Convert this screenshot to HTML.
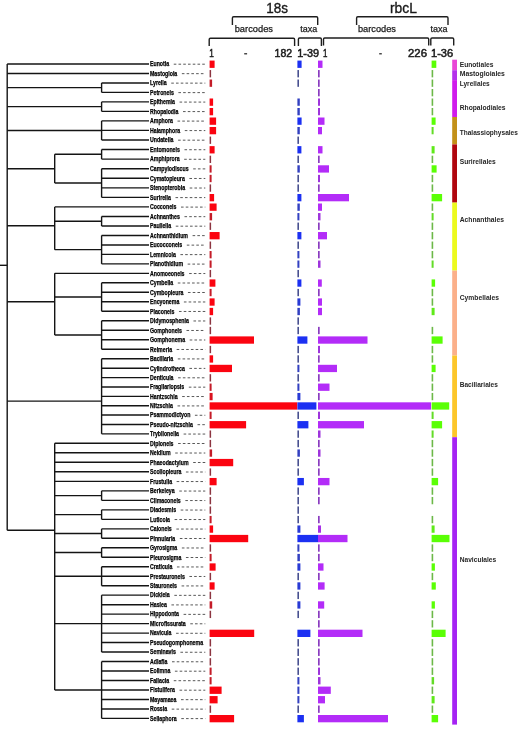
<!DOCTYPE html>
<html><head><meta charset="utf-8"><style>
html,body{margin:0;padding:0;background:#fff;}
svg{display:block;font-family:"Liberation Sans",sans-serif;will-change:transform;}
</style></head><body>
<svg width="520" height="743" viewBox="0 0 520 743">
<rect width="520" height="743" fill="#fff"/>
<line x1="101.60" y1="82.93" x2="101.60" y2="92.41" stroke="#141414" stroke-width="1.4"/>
<line x1="7.20" y1="87.67" x2="101.60" y2="87.67" stroke="#141414" stroke-width="1.4"/>
<line x1="101.60" y1="101.89" x2="101.60" y2="111.38" stroke="#141414" stroke-width="1.4"/>
<line x1="7.20" y1="106.64" x2="101.60" y2="106.64" stroke="#141414" stroke-width="1.4"/>
<line x1="101.60" y1="120.90" x2="101.60" y2="139.98" stroke="#141414" stroke-width="1.4"/>
<line x1="7.20" y1="130.44" x2="101.60" y2="130.44" stroke="#141414" stroke-width="1.4"/>
<line x1="101.60" y1="149.53" x2="101.60" y2="159.09" stroke="#141414" stroke-width="1.4"/>
<line x1="101.60" y1="168.69" x2="101.60" y2="197.40" stroke="#141414" stroke-width="1.4"/>
<line x1="54.70" y1="154.31" x2="101.60" y2="154.31" stroke="#141414" stroke-width="1.4"/>
<line x1="54.70" y1="183.05" x2="101.60" y2="183.05" stroke="#141414" stroke-width="1.4"/>
<line x1="54.70" y1="154.31" x2="54.70" y2="183.05" stroke="#141414" stroke-width="1.4"/>
<line x1="7.20" y1="168.80" x2="54.70" y2="168.80" stroke="#141414" stroke-width="1.4"/>
<line x1="101.60" y1="216.46" x2="101.60" y2="225.98" stroke="#141414" stroke-width="1.4"/>
<line x1="101.60" y1="235.43" x2="101.60" y2="263.90" stroke="#141414" stroke-width="1.4"/>
<line x1="54.70" y1="221.22" x2="101.60" y2="221.22" stroke="#141414" stroke-width="1.4"/>
<line x1="54.70" y1="249.67" x2="101.60" y2="249.67" stroke="#141414" stroke-width="1.4"/>
<line x1="54.70" y1="206.90" x2="54.70" y2="249.67" stroke="#141414" stroke-width="1.4"/>
<line x1="7.20" y1="225.80" x2="54.70" y2="225.80" stroke="#141414" stroke-width="1.4"/>
<line x1="101.60" y1="282.80" x2="101.60" y2="311.26" stroke="#141414" stroke-width="1.4"/>
<line x1="101.60" y1="320.78" x2="101.60" y2="349.27" stroke="#141414" stroke-width="1.4"/>
<line x1="54.70" y1="297.03" x2="101.60" y2="297.03" stroke="#141414" stroke-width="1.4"/>
<line x1="54.70" y1="335.02" x2="101.60" y2="335.02" stroke="#141414" stroke-width="1.4"/>
<line x1="54.70" y1="273.34" x2="54.70" y2="335.02" stroke="#141414" stroke-width="1.4"/>
<line x1="7.20" y1="301.70" x2="54.70" y2="301.70" stroke="#141414" stroke-width="1.4"/>
<line x1="101.60" y1="358.72" x2="101.60" y2="433.85" stroke="#141414" stroke-width="1.4"/>
<line x1="7.20" y1="401.10" x2="101.60" y2="401.10" stroke="#141414" stroke-width="1.4"/>
<line x1="101.60" y1="490.85" x2="101.60" y2="500.36" stroke="#141414" stroke-width="1.4"/>
<line x1="54.70" y1="495.61" x2="101.60" y2="495.61" stroke="#141414" stroke-width="1.4"/>
<line x1="101.60" y1="509.85" x2="101.60" y2="519.34" stroke="#141414" stroke-width="1.4"/>
<line x1="54.70" y1="514.59" x2="101.60" y2="514.59" stroke="#141414" stroke-width="1.4"/>
<line x1="101.60" y1="528.85" x2="101.60" y2="538.29" stroke="#141414" stroke-width="1.4"/>
<line x1="54.70" y1="533.57" x2="101.60" y2="533.57" stroke="#141414" stroke-width="1.4"/>
<line x1="101.60" y1="547.78" x2="101.60" y2="557.30" stroke="#141414" stroke-width="1.4"/>
<line x1="54.70" y1="552.54" x2="101.60" y2="552.54" stroke="#141414" stroke-width="1.4"/>
<line x1="101.60" y1="566.76" x2="101.60" y2="585.73" stroke="#141414" stroke-width="1.4"/>
<line x1="54.70" y1="576.25" x2="101.60" y2="576.25" stroke="#141414" stroke-width="1.4"/>
<line x1="101.60" y1="595.15" x2="101.60" y2="652.05" stroke="#141414" stroke-width="1.4"/>
<line x1="54.70" y1="623.60" x2="101.60" y2="623.60" stroke="#141414" stroke-width="1.4"/>
<line x1="101.60" y1="661.57" x2="101.60" y2="718.40" stroke="#141414" stroke-width="1.4"/>
<line x1="54.70" y1="689.99" x2="101.60" y2="689.99" stroke="#141414" stroke-width="1.4"/>
<line x1="54.70" y1="443.31" x2="54.70" y2="689.99" stroke="#141414" stroke-width="1.4"/>
<line x1="7.20" y1="530.30" x2="54.70" y2="530.30" stroke="#141414" stroke-width="1.4"/>
<line x1="7.20" y1="63.99" x2="7.20" y2="530.30" stroke="#141414" stroke-width="1.4"/>
<line x1="0.00" y1="265.30" x2="7.20" y2="265.30" stroke="#141414" stroke-width="1.4"/>
<line x1="7.20" y1="63.99" x2="149.00" y2="63.99" stroke="#141414" stroke-width="1.4"/>
<line x1="7.20" y1="73.45" x2="149.00" y2="73.45" stroke="#141414" stroke-width="1.4"/>
<line x1="101.60" y1="82.93" x2="149.00" y2="82.93" stroke="#141414" stroke-width="1.4"/>
<line x1="101.60" y1="92.41" x2="149.00" y2="92.41" stroke="#141414" stroke-width="1.4"/>
<line x1="101.60" y1="101.89" x2="149.00" y2="101.89" stroke="#141414" stroke-width="1.4"/>
<line x1="101.60" y1="111.38" x2="149.00" y2="111.38" stroke="#141414" stroke-width="1.4"/>
<line x1="101.60" y1="120.90" x2="149.00" y2="120.90" stroke="#141414" stroke-width="1.4"/>
<line x1="101.60" y1="130.38" x2="149.00" y2="130.38" stroke="#141414" stroke-width="1.4"/>
<line x1="101.60" y1="139.98" x2="149.00" y2="139.98" stroke="#141414" stroke-width="1.4"/>
<line x1="101.60" y1="149.53" x2="149.00" y2="149.53" stroke="#141414" stroke-width="1.4"/>
<line x1="101.60" y1="159.09" x2="149.00" y2="159.09" stroke="#141414" stroke-width="1.4"/>
<line x1="101.60" y1="168.69" x2="149.00" y2="168.69" stroke="#141414" stroke-width="1.4"/>
<line x1="101.60" y1="178.27" x2="149.00" y2="178.27" stroke="#141414" stroke-width="1.4"/>
<line x1="101.60" y1="187.83" x2="149.00" y2="187.83" stroke="#141414" stroke-width="1.4"/>
<line x1="101.60" y1="197.40" x2="149.00" y2="197.40" stroke="#141414" stroke-width="1.4"/>
<line x1="54.70" y1="206.90" x2="149.00" y2="206.90" stroke="#141414" stroke-width="1.4"/>
<line x1="101.60" y1="216.46" x2="149.00" y2="216.46" stroke="#141414" stroke-width="1.4"/>
<line x1="101.60" y1="225.98" x2="149.00" y2="225.98" stroke="#141414" stroke-width="1.4"/>
<line x1="101.60" y1="235.43" x2="149.00" y2="235.43" stroke="#141414" stroke-width="1.4"/>
<line x1="101.60" y1="244.93" x2="149.00" y2="244.93" stroke="#141414" stroke-width="1.4"/>
<line x1="101.60" y1="254.42" x2="149.00" y2="254.42" stroke="#141414" stroke-width="1.4"/>
<line x1="101.60" y1="263.90" x2="149.00" y2="263.90" stroke="#141414" stroke-width="1.4"/>
<line x1="54.70" y1="273.34" x2="149.00" y2="273.34" stroke="#141414" stroke-width="1.4"/>
<line x1="101.60" y1="282.80" x2="149.00" y2="282.80" stroke="#141414" stroke-width="1.4"/>
<line x1="101.60" y1="292.29" x2="149.00" y2="292.29" stroke="#141414" stroke-width="1.4"/>
<line x1="101.60" y1="301.77" x2="149.00" y2="301.77" stroke="#141414" stroke-width="1.4"/>
<line x1="101.60" y1="311.26" x2="149.00" y2="311.26" stroke="#141414" stroke-width="1.4"/>
<line x1="101.60" y1="320.78" x2="149.00" y2="320.78" stroke="#141414" stroke-width="1.4"/>
<line x1="101.60" y1="330.27" x2="149.00" y2="330.27" stroke="#141414" stroke-width="1.4"/>
<line x1="101.60" y1="339.79" x2="149.00" y2="339.79" stroke="#141414" stroke-width="1.4"/>
<line x1="101.60" y1="349.27" x2="149.00" y2="349.27" stroke="#141414" stroke-width="1.4"/>
<line x1="101.60" y1="358.72" x2="149.00" y2="358.72" stroke="#141414" stroke-width="1.4"/>
<line x1="101.60" y1="368.20" x2="149.00" y2="368.20" stroke="#141414" stroke-width="1.4"/>
<line x1="101.60" y1="377.60" x2="149.00" y2="377.60" stroke="#141414" stroke-width="1.4"/>
<line x1="101.60" y1="386.96" x2="149.00" y2="386.96" stroke="#141414" stroke-width="1.4"/>
<line x1="101.60" y1="396.34" x2="149.00" y2="396.34" stroke="#141414" stroke-width="1.4"/>
<line x1="101.60" y1="405.72" x2="149.00" y2="405.72" stroke="#141414" stroke-width="1.4"/>
<line x1="101.60" y1="415.07" x2="149.00" y2="415.07" stroke="#141414" stroke-width="1.4"/>
<line x1="101.60" y1="424.48" x2="149.00" y2="424.48" stroke="#141414" stroke-width="1.4"/>
<line x1="101.60" y1="433.85" x2="149.00" y2="433.85" stroke="#141414" stroke-width="1.4"/>
<line x1="54.70" y1="443.31" x2="149.00" y2="443.31" stroke="#141414" stroke-width="1.4"/>
<line x1="54.70" y1="452.82" x2="149.00" y2="452.82" stroke="#141414" stroke-width="1.4"/>
<line x1="54.70" y1="462.31" x2="149.00" y2="462.31" stroke="#141414" stroke-width="1.4"/>
<line x1="54.70" y1="471.81" x2="149.00" y2="471.81" stroke="#141414" stroke-width="1.4"/>
<line x1="54.70" y1="481.36" x2="149.00" y2="481.36" stroke="#141414" stroke-width="1.4"/>
<line x1="101.60" y1="490.85" x2="149.00" y2="490.85" stroke="#141414" stroke-width="1.4"/>
<line x1="101.60" y1="500.36" x2="149.00" y2="500.36" stroke="#141414" stroke-width="1.4"/>
<line x1="101.60" y1="509.85" x2="149.00" y2="509.85" stroke="#141414" stroke-width="1.4"/>
<line x1="101.60" y1="519.34" x2="149.00" y2="519.34" stroke="#141414" stroke-width="1.4"/>
<line x1="101.60" y1="528.85" x2="149.00" y2="528.85" stroke="#141414" stroke-width="1.4"/>
<line x1="101.60" y1="538.29" x2="149.00" y2="538.29" stroke="#141414" stroke-width="1.4"/>
<line x1="101.60" y1="547.78" x2="149.00" y2="547.78" stroke="#141414" stroke-width="1.4"/>
<line x1="101.60" y1="557.30" x2="149.00" y2="557.30" stroke="#141414" stroke-width="1.4"/>
<line x1="101.60" y1="566.76" x2="149.00" y2="566.76" stroke="#141414" stroke-width="1.4"/>
<line x1="101.60" y1="576.28" x2="149.00" y2="576.28" stroke="#141414" stroke-width="1.4"/>
<line x1="101.60" y1="585.73" x2="149.00" y2="585.73" stroke="#141414" stroke-width="1.4"/>
<line x1="101.60" y1="595.15" x2="149.00" y2="595.15" stroke="#141414" stroke-width="1.4"/>
<line x1="101.60" y1="604.71" x2="149.00" y2="604.71" stroke="#141414" stroke-width="1.4"/>
<line x1="101.60" y1="614.16" x2="149.00" y2="614.16" stroke="#141414" stroke-width="1.4"/>
<line x1="101.60" y1="623.59" x2="149.00" y2="623.59" stroke="#141414" stroke-width="1.4"/>
<line x1="101.60" y1="633.09" x2="149.00" y2="633.09" stroke="#141414" stroke-width="1.4"/>
<line x1="101.60" y1="642.55" x2="149.00" y2="642.55" stroke="#141414" stroke-width="1.4"/>
<line x1="101.60" y1="652.05" x2="149.00" y2="652.05" stroke="#141414" stroke-width="1.4"/>
<line x1="101.60" y1="661.57" x2="149.00" y2="661.57" stroke="#141414" stroke-width="1.4"/>
<line x1="101.60" y1="671.00" x2="149.00" y2="671.00" stroke="#141414" stroke-width="1.4"/>
<line x1="101.60" y1="680.49" x2="149.00" y2="680.49" stroke="#141414" stroke-width="1.4"/>
<line x1="101.60" y1="689.99" x2="149.00" y2="689.99" stroke="#141414" stroke-width="1.4"/>
<line x1="101.60" y1="699.47" x2="149.00" y2="699.47" stroke="#141414" stroke-width="1.4"/>
<line x1="101.60" y1="708.93" x2="149.00" y2="708.93" stroke="#141414" stroke-width="1.4"/>
<line x1="101.60" y1="718.40" x2="149.00" y2="718.40" stroke="#141414" stroke-width="1.4"/>
<text x="150.0" y="66.29" font-size="6.8" font-weight="bold" fill="#000" stroke="#000" stroke-width="0.25" textLength="19.14" lengthAdjust="spacingAndGlyphs">Eunotia</text>
<line x1="173.74" y1="64.19" x2="205.30" y2="64.19" stroke="#585858" stroke-width="1.0" stroke-dasharray="2.6 2.15"/>
<text x="150.0" y="75.75" font-size="6.8" font-weight="bold" fill="#000" stroke="#000" stroke-width="0.25" textLength="27.26" lengthAdjust="spacingAndGlyphs">Mastogloia</text>
<line x1="181.86" y1="73.66" x2="205.30" y2="73.66" stroke="#585858" stroke-width="1.0" stroke-dasharray="2.6 2.15"/>
<text x="150.0" y="85.23" font-size="6.8" font-weight="bold" fill="#000" stroke="#000" stroke-width="0.25" textLength="16.64" lengthAdjust="spacingAndGlyphs">Lyrella</text>
<line x1="171.24" y1="83.13" x2="205.30" y2="83.13" stroke="#585858" stroke-width="1.0" stroke-dasharray="2.6 2.15"/>
<text x="150.0" y="94.71" font-size="6.8" font-weight="bold" fill="#000" stroke="#000" stroke-width="0.25" textLength="23.79" lengthAdjust="spacingAndGlyphs">Petroneis</text>
<line x1="178.39" y1="92.61" x2="205.30" y2="92.61" stroke="#585858" stroke-width="1.0" stroke-dasharray="2.6 2.15"/>
<text x="150.0" y="104.19" font-size="6.8" font-weight="bold" fill="#000" stroke="#000" stroke-width="0.25" textLength="24.94" lengthAdjust="spacingAndGlyphs">Epithemia</text>
<line x1="179.54" y1="102.09" x2="205.30" y2="102.09" stroke="#585858" stroke-width="1.0" stroke-dasharray="2.6 2.15"/>
<text x="150.0" y="113.68" font-size="6.8" font-weight="bold" fill="#000" stroke="#000" stroke-width="0.25" textLength="28.42" lengthAdjust="spacingAndGlyphs">Rhopalodia</text>
<line x1="183.02" y1="111.58" x2="205.30" y2="111.58" stroke="#585858" stroke-width="1.0" stroke-dasharray="2.6 2.15"/>
<text x="150.0" y="123.20" font-size="6.8" font-weight="bold" fill="#000" stroke="#000" stroke-width="0.25" textLength="22.91" lengthAdjust="spacingAndGlyphs">Amphora</text>
<line x1="177.51" y1="121.10" x2="205.30" y2="121.10" stroke="#585858" stroke-width="1.0" stroke-dasharray="2.6 2.15"/>
<text x="150.0" y="132.68" font-size="6.8" font-weight="bold" fill="#000" stroke="#000" stroke-width="0.25" textLength="30.17" lengthAdjust="spacingAndGlyphs">Halamphora</text>
<line x1="184.77" y1="130.58" x2="205.30" y2="130.58" stroke="#585858" stroke-width="1.0" stroke-dasharray="2.6 2.15"/>
<text x="150.0" y="142.28" font-size="6.8" font-weight="bold" fill="#000" stroke="#000" stroke-width="0.25" textLength="23.49" lengthAdjust="spacingAndGlyphs">Undatella</text>
<line x1="178.09" y1="140.18" x2="205.30" y2="140.18" stroke="#585858" stroke-width="1.0" stroke-dasharray="2.6 2.15"/>
<text x="150.0" y="151.83" font-size="6.8" font-weight="bold" fill="#000" stroke="#000" stroke-width="0.25" textLength="29.87" lengthAdjust="spacingAndGlyphs">Entomoneis</text>
<line x1="184.47" y1="149.73" x2="205.30" y2="149.73" stroke="#585858" stroke-width="1.0" stroke-dasharray="2.6 2.15"/>
<text x="150.0" y="161.39" font-size="6.8" font-weight="bold" fill="#000" stroke="#000" stroke-width="0.25" textLength="29.58" lengthAdjust="spacingAndGlyphs">Amphiprora</text>
<line x1="184.18" y1="159.29" x2="205.30" y2="159.29" stroke="#585858" stroke-width="1.0" stroke-dasharray="2.6 2.15"/>
<text x="150.0" y="170.99" font-size="6.8" font-weight="bold" fill="#000" stroke="#000" stroke-width="0.25" textLength="38.58" lengthAdjust="spacingAndGlyphs">Campylodiscus</text>
<line x1="193.18" y1="168.89" x2="205.30" y2="168.89" stroke="#585858" stroke-width="1.0" stroke-dasharray="2.6 2.15"/>
<text x="150.0" y="180.57" font-size="6.8" font-weight="bold" fill="#000" stroke="#000" stroke-width="0.25" textLength="34.81" lengthAdjust="spacingAndGlyphs">Cymatopleura</text>
<line x1="189.41" y1="178.47" x2="205.30" y2="178.47" stroke="#585858" stroke-width="1.0" stroke-dasharray="2.6 2.15"/>
<text x="150.0" y="190.13" font-size="6.8" font-weight="bold" fill="#000" stroke="#000" stroke-width="0.25" textLength="35.09" lengthAdjust="spacingAndGlyphs">Stenopterobia</text>
<line x1="189.69" y1="188.03" x2="205.30" y2="188.03" stroke="#585858" stroke-width="1.0" stroke-dasharray="2.6 2.15"/>
<text x="150.0" y="199.70" font-size="6.8" font-weight="bold" fill="#000" stroke="#000" stroke-width="0.25" textLength="20.89" lengthAdjust="spacingAndGlyphs">Surirella</text>
<line x1="175.49" y1="197.60" x2="205.30" y2="197.60" stroke="#585858" stroke-width="1.0" stroke-dasharray="2.6 2.15"/>
<text x="150.0" y="209.20" font-size="6.8" font-weight="bold" fill="#000" stroke="#000" stroke-width="0.25" textLength="26.40" lengthAdjust="spacingAndGlyphs">Cocconeis</text>
<line x1="181.00" y1="207.10" x2="205.30" y2="207.10" stroke="#585858" stroke-width="1.0" stroke-dasharray="2.6 2.15"/>
<text x="150.0" y="218.76" font-size="6.8" font-weight="bold" fill="#000" stroke="#000" stroke-width="0.25" textLength="29.87" lengthAdjust="spacingAndGlyphs">Achnanthes</text>
<line x1="184.47" y1="216.66" x2="205.30" y2="216.66" stroke="#585858" stroke-width="1.0" stroke-dasharray="2.6 2.15"/>
<text x="150.0" y="228.28" font-size="6.8" font-weight="bold" fill="#000" stroke="#000" stroke-width="0.25" textLength="21.18" lengthAdjust="spacingAndGlyphs">Pauliella</text>
<line x1="175.78" y1="226.18" x2="205.30" y2="226.18" stroke="#585858" stroke-width="1.0" stroke-dasharray="2.6 2.15"/>
<text x="150.0" y="237.73" font-size="6.8" font-weight="bold" fill="#000" stroke="#000" stroke-width="0.25" textLength="37.99" lengthAdjust="spacingAndGlyphs">Achnanthidium</text>
<line x1="192.59" y1="235.63" x2="205.30" y2="235.63" stroke="#585858" stroke-width="1.0" stroke-dasharray="2.6 2.15"/>
<text x="150.0" y="247.23" font-size="6.8" font-weight="bold" fill="#000" stroke="#000" stroke-width="0.25" textLength="32.20" lengthAdjust="spacingAndGlyphs">Eucocconeis</text>
<line x1="186.80" y1="245.13" x2="205.30" y2="245.13" stroke="#585858" stroke-width="1.0" stroke-dasharray="2.6 2.15"/>
<text x="150.0" y="256.72" font-size="6.8" font-weight="bold" fill="#000" stroke="#000" stroke-width="0.25" textLength="25.82" lengthAdjust="spacingAndGlyphs">Lemnicola</text>
<line x1="180.42" y1="254.62" x2="205.30" y2="254.62" stroke="#585858" stroke-width="1.0" stroke-dasharray="2.6 2.15"/>
<text x="150.0" y="266.20" font-size="6.8" font-weight="bold" fill="#000" stroke="#000" stroke-width="0.25" textLength="33.06" lengthAdjust="spacingAndGlyphs">Planothidium</text>
<line x1="187.66" y1="264.10" x2="205.30" y2="264.10" stroke="#585858" stroke-width="1.0" stroke-dasharray="2.6 2.15"/>
<text x="150.0" y="275.64" font-size="6.8" font-weight="bold" fill="#000" stroke="#000" stroke-width="0.25" textLength="34.51" lengthAdjust="spacingAndGlyphs">Anomoeoneis</text>
<line x1="189.11" y1="273.54" x2="205.30" y2="273.54" stroke="#585858" stroke-width="1.0" stroke-dasharray="2.6 2.15"/>
<text x="150.0" y="285.10" font-size="6.8" font-weight="bold" fill="#000" stroke="#000" stroke-width="0.25" textLength="23.21" lengthAdjust="spacingAndGlyphs">Cymbella</text>
<line x1="177.81" y1="283.00" x2="205.30" y2="283.00" stroke="#585858" stroke-width="1.0" stroke-dasharray="2.6 2.15"/>
<text x="150.0" y="294.59" font-size="6.8" font-weight="bold" fill="#000" stroke="#000" stroke-width="0.25" textLength="33.35" lengthAdjust="spacingAndGlyphs">Cymbopleura</text>
<line x1="187.95" y1="292.49" x2="205.30" y2="292.49" stroke="#585858" stroke-width="1.0" stroke-dasharray="2.6 2.15"/>
<text x="150.0" y="304.07" font-size="6.8" font-weight="bold" fill="#000" stroke="#000" stroke-width="0.25" textLength="29.30" lengthAdjust="spacingAndGlyphs">Encyonema</text>
<line x1="183.90" y1="301.97" x2="205.30" y2="301.97" stroke="#585858" stroke-width="1.0" stroke-dasharray="2.6 2.15"/>
<text x="150.0" y="313.56" font-size="6.8" font-weight="bold" fill="#000" stroke="#000" stroke-width="0.25" textLength="24.37" lengthAdjust="spacingAndGlyphs">Placoneis</text>
<line x1="178.97" y1="311.46" x2="205.30" y2="311.46" stroke="#585858" stroke-width="1.0" stroke-dasharray="2.6 2.15"/>
<text x="150.0" y="323.08" font-size="6.8" font-weight="bold" fill="#000" stroke="#000" stroke-width="0.25" textLength="38.86" lengthAdjust="spacingAndGlyphs">Didymosphenia</text>
<line x1="193.46" y1="320.98" x2="205.30" y2="320.98" stroke="#585858" stroke-width="1.0" stroke-dasharray="2.6 2.15"/>
<text x="150.0" y="332.57" font-size="6.8" font-weight="bold" fill="#000" stroke="#000" stroke-width="0.25" textLength="31.90" lengthAdjust="spacingAndGlyphs">Gomphoneis</text>
<line x1="186.50" y1="330.47" x2="205.30" y2="330.47" stroke="#585858" stroke-width="1.0" stroke-dasharray="2.6 2.15"/>
<text x="150.0" y="342.09" font-size="6.8" font-weight="bold" fill="#000" stroke="#000" stroke-width="0.25" textLength="35.09" lengthAdjust="spacingAndGlyphs">Gomphonema</text>
<line x1="189.69" y1="339.99" x2="205.30" y2="339.99" stroke="#585858" stroke-width="1.0" stroke-dasharray="2.6 2.15"/>
<text x="150.0" y="351.57" font-size="6.8" font-weight="bold" fill="#000" stroke="#000" stroke-width="0.25" textLength="22.05" lengthAdjust="spacingAndGlyphs">Reimeria</text>
<line x1="176.65" y1="349.47" x2="205.30" y2="349.47" stroke="#585858" stroke-width="1.0" stroke-dasharray="2.6 2.15"/>
<text x="150.0" y="361.02" font-size="6.8" font-weight="bold" fill="#000" stroke="#000" stroke-width="0.25" textLength="23.21" lengthAdjust="spacingAndGlyphs">Bacillaria</text>
<line x1="177.81" y1="358.92" x2="205.30" y2="358.92" stroke="#585858" stroke-width="1.0" stroke-dasharray="2.6 2.15"/>
<text x="150.0" y="370.50" font-size="6.8" font-weight="bold" fill="#000" stroke="#000" stroke-width="0.25" textLength="34.80" lengthAdjust="spacingAndGlyphs">Cylindrotheca</text>
<line x1="189.40" y1="368.40" x2="205.30" y2="368.40" stroke="#585858" stroke-width="1.0" stroke-dasharray="2.6 2.15"/>
<text x="150.0" y="379.90" font-size="6.8" font-weight="bold" fill="#000" stroke="#000" stroke-width="0.25" textLength="23.49" lengthAdjust="spacingAndGlyphs">Denticula</text>
<line x1="178.09" y1="377.80" x2="205.30" y2="377.80" stroke="#585858" stroke-width="1.0" stroke-dasharray="2.6 2.15"/>
<text x="150.0" y="389.26" font-size="6.8" font-weight="bold" fill="#000" stroke="#000" stroke-width="0.25" textLength="34.23" lengthAdjust="spacingAndGlyphs">Fragilariopsis</text>
<line x1="188.83" y1="387.16" x2="205.30" y2="387.16" stroke="#585858" stroke-width="1.0" stroke-dasharray="2.6 2.15"/>
<text x="150.0" y="398.64" font-size="6.8" font-weight="bold" fill="#000" stroke="#000" stroke-width="0.25" textLength="27.56" lengthAdjust="spacingAndGlyphs">Hantzschia</text>
<line x1="182.16" y1="396.54" x2="205.30" y2="396.54" stroke="#585858" stroke-width="1.0" stroke-dasharray="2.6 2.15"/>
<text x="150.0" y="408.02" font-size="6.8" font-weight="bold" fill="#000" stroke="#000" stroke-width="0.25" textLength="22.91" lengthAdjust="spacingAndGlyphs">Nitzschia</text>
<line x1="177.51" y1="405.92" x2="205.30" y2="405.92" stroke="#585858" stroke-width="1.0" stroke-dasharray="2.6 2.15"/>
<text x="150.0" y="417.37" font-size="6.8" font-weight="bold" fill="#000" stroke="#000" stroke-width="0.25" textLength="40.32" lengthAdjust="spacingAndGlyphs">Psammodictyon</text>
<line x1="194.92" y1="415.27" x2="205.30" y2="415.27" stroke="#585858" stroke-width="1.0" stroke-dasharray="2.6 2.15"/>
<text x="150.0" y="426.78" font-size="6.8" font-weight="bold" fill="#000" stroke="#000" stroke-width="0.25" textLength="42.92" lengthAdjust="spacingAndGlyphs">Pseudo-nitzschia</text>
<line x1="197.52" y1="424.68" x2="205.30" y2="424.68" stroke="#585858" stroke-width="1.0" stroke-dasharray="2.6 2.15"/>
<text x="150.0" y="436.15" font-size="6.8" font-weight="bold" fill="#000" stroke="#000" stroke-width="0.25" textLength="29.01" lengthAdjust="spacingAndGlyphs">Tryblionella</text>
<line x1="183.61" y1="434.05" x2="205.30" y2="434.05" stroke="#585858" stroke-width="1.0" stroke-dasharray="2.6 2.15"/>
<text x="150.0" y="445.61" font-size="6.8" font-weight="bold" fill="#000" stroke="#000" stroke-width="0.25" textLength="23.49" lengthAdjust="spacingAndGlyphs">Diploneis</text>
<line x1="178.09" y1="443.51" x2="205.30" y2="443.51" stroke="#585858" stroke-width="1.0" stroke-dasharray="2.6 2.15"/>
<text x="150.0" y="455.12" font-size="6.8" font-weight="bold" fill="#000" stroke="#000" stroke-width="0.25" textLength="20.59" lengthAdjust="spacingAndGlyphs">Neidium</text>
<line x1="175.19" y1="453.02" x2="205.30" y2="453.02" stroke="#585858" stroke-width="1.0" stroke-dasharray="2.6 2.15"/>
<text x="150.0" y="464.61" font-size="6.8" font-weight="bold" fill="#000" stroke="#000" stroke-width="0.25" textLength="38.58" lengthAdjust="spacingAndGlyphs">Phaeodactylum</text>
<line x1="193.18" y1="462.51" x2="205.30" y2="462.51" stroke="#585858" stroke-width="1.0" stroke-dasharray="2.6 2.15"/>
<text x="150.0" y="474.11" font-size="6.8" font-weight="bold" fill="#000" stroke="#000" stroke-width="0.25" textLength="31.33" lengthAdjust="spacingAndGlyphs">Scoliopleura</text>
<line x1="185.93" y1="472.01" x2="205.30" y2="472.01" stroke="#585858" stroke-width="1.0" stroke-dasharray="2.6 2.15"/>
<text x="150.0" y="483.66" font-size="6.8" font-weight="bold" fill="#000" stroke="#000" stroke-width="0.25" textLength="22.04" lengthAdjust="spacingAndGlyphs">Frustulia</text>
<line x1="176.64" y1="481.56" x2="205.30" y2="481.56" stroke="#585858" stroke-width="1.0" stroke-dasharray="2.6 2.15"/>
<text x="150.0" y="493.15" font-size="6.8" font-weight="bold" fill="#000" stroke="#000" stroke-width="0.25" textLength="24.67" lengthAdjust="spacingAndGlyphs">Berkeleya</text>
<line x1="179.27" y1="491.05" x2="205.30" y2="491.05" stroke="#585858" stroke-width="1.0" stroke-dasharray="2.6 2.15"/>
<text x="150.0" y="502.66" font-size="6.8" font-weight="bold" fill="#000" stroke="#000" stroke-width="0.25" textLength="30.75" lengthAdjust="spacingAndGlyphs">Climaconeis</text>
<line x1="185.35" y1="500.56" x2="205.30" y2="500.56" stroke="#585858" stroke-width="1.0" stroke-dasharray="2.6 2.15"/>
<text x="150.0" y="512.15" font-size="6.8" font-weight="bold" fill="#000" stroke="#000" stroke-width="0.25" textLength="26.11" lengthAdjust="spacingAndGlyphs">Diadesmis</text>
<line x1="180.71" y1="510.05" x2="205.30" y2="510.05" stroke="#585858" stroke-width="1.0" stroke-dasharray="2.6 2.15"/>
<text x="150.0" y="521.64" font-size="6.8" font-weight="bold" fill="#000" stroke="#000" stroke-width="0.25" textLength="20.01" lengthAdjust="spacingAndGlyphs">Luticola</text>
<line x1="174.61" y1="519.54" x2="205.30" y2="519.54" stroke="#585858" stroke-width="1.0" stroke-dasharray="2.6 2.15"/>
<text x="150.0" y="531.15" font-size="6.8" font-weight="bold" fill="#000" stroke="#000" stroke-width="0.25" textLength="21.76" lengthAdjust="spacingAndGlyphs">Caloneis</text>
<line x1="176.36" y1="529.05" x2="205.30" y2="529.05" stroke="#585858" stroke-width="1.0" stroke-dasharray="2.6 2.15"/>
<text x="150.0" y="540.59" font-size="6.8" font-weight="bold" fill="#000" stroke="#000" stroke-width="0.25" textLength="25.23" lengthAdjust="spacingAndGlyphs">Pinnularia</text>
<line x1="179.83" y1="538.49" x2="205.30" y2="538.49" stroke="#585858" stroke-width="1.0" stroke-dasharray="2.6 2.15"/>
<text x="150.0" y="550.08" font-size="6.8" font-weight="bold" fill="#000" stroke="#000" stroke-width="0.25" textLength="27.27" lengthAdjust="spacingAndGlyphs">Gyrosigma</text>
<line x1="181.87" y1="547.98" x2="205.30" y2="547.98" stroke="#585858" stroke-width="1.0" stroke-dasharray="2.6 2.15"/>
<text x="150.0" y="559.60" font-size="6.8" font-weight="bold" fill="#000" stroke="#000" stroke-width="0.25" textLength="31.33" lengthAdjust="spacingAndGlyphs">Pleurosigma</text>
<line x1="185.93" y1="557.50" x2="205.30" y2="557.50" stroke="#585858" stroke-width="1.0" stroke-dasharray="2.6 2.15"/>
<text x="150.0" y="569.06" font-size="6.8" font-weight="bold" fill="#000" stroke="#000" stroke-width="0.25" textLength="22.34" lengthAdjust="spacingAndGlyphs">Craticula</text>
<line x1="176.94" y1="566.96" x2="205.30" y2="566.96" stroke="#585858" stroke-width="1.0" stroke-dasharray="2.6 2.15"/>
<text x="150.0" y="578.58" font-size="6.8" font-weight="bold" fill="#000" stroke="#000" stroke-width="0.25" textLength="34.81" lengthAdjust="spacingAndGlyphs">Prestauroneis</text>
<line x1="189.41" y1="576.48" x2="205.30" y2="576.48" stroke="#585858" stroke-width="1.0" stroke-dasharray="2.6 2.15"/>
<text x="150.0" y="588.03" font-size="6.8" font-weight="bold" fill="#000" stroke="#000" stroke-width="0.25" textLength="26.98" lengthAdjust="spacingAndGlyphs">Stauroneis</text>
<line x1="181.58" y1="585.93" x2="205.30" y2="585.93" stroke="#585858" stroke-width="1.0" stroke-dasharray="2.6 2.15"/>
<text x="150.0" y="597.45" font-size="6.8" font-weight="bold" fill="#000" stroke="#000" stroke-width="0.25" textLength="19.73" lengthAdjust="spacingAndGlyphs">Dickieia</text>
<line x1="174.33" y1="595.35" x2="205.30" y2="595.35" stroke="#585858" stroke-width="1.0" stroke-dasharray="2.6 2.15"/>
<text x="150.0" y="607.01" font-size="6.8" font-weight="bold" fill="#000" stroke="#000" stroke-width="0.25" textLength="16.83" lengthAdjust="spacingAndGlyphs">Haslea</text>
<line x1="171.43" y1="604.91" x2="205.30" y2="604.91" stroke="#585858" stroke-width="1.0" stroke-dasharray="2.6 2.15"/>
<text x="150.0" y="616.46" font-size="6.8" font-weight="bold" fill="#000" stroke="#000" stroke-width="0.25" textLength="28.99" lengthAdjust="spacingAndGlyphs">Hippodonta</text>
<line x1="183.59" y1="614.36" x2="205.30" y2="614.36" stroke="#585858" stroke-width="1.0" stroke-dasharray="2.6 2.15"/>
<text x="150.0" y="625.89" font-size="6.8" font-weight="bold" fill="#000" stroke="#000" stroke-width="0.25" textLength="35.68" lengthAdjust="spacingAndGlyphs">Microfissurata</text>
<line x1="190.28" y1="623.79" x2="205.30" y2="623.79" stroke="#585858" stroke-width="1.0" stroke-dasharray="2.6 2.15"/>
<text x="150.0" y="635.39" font-size="6.8" font-weight="bold" fill="#000" stroke="#000" stroke-width="0.25" textLength="21.47" lengthAdjust="spacingAndGlyphs">Navicula</text>
<line x1="176.07" y1="633.29" x2="205.30" y2="633.29" stroke="#585858" stroke-width="1.0" stroke-dasharray="2.6 2.15"/>
<text x="150.0" y="644.85" font-size="6.8" font-weight="bold" fill="#000" stroke="#000" stroke-width="0.25" textLength="53.07" lengthAdjust="spacingAndGlyphs">Pseudogomphonema</text>
<text x="150.0" y="654.35" font-size="6.8" font-weight="bold" fill="#000" stroke="#000" stroke-width="0.25" textLength="25.82" lengthAdjust="spacingAndGlyphs">Seminavis</text>
<line x1="180.42" y1="652.25" x2="205.30" y2="652.25" stroke="#585858" stroke-width="1.0" stroke-dasharray="2.6 2.15"/>
<text x="150.0" y="663.87" font-size="6.8" font-weight="bold" fill="#000" stroke="#000" stroke-width="0.25" textLength="17.40" lengthAdjust="spacingAndGlyphs">Adlafia</text>
<line x1="172.00" y1="661.77" x2="205.30" y2="661.77" stroke="#585858" stroke-width="1.0" stroke-dasharray="2.6 2.15"/>
<text x="150.0" y="673.30" font-size="6.8" font-weight="bold" fill="#000" stroke="#000" stroke-width="0.25" textLength="20.30" lengthAdjust="spacingAndGlyphs">Eolimna</text>
<line x1="174.90" y1="671.20" x2="205.30" y2="671.20" stroke="#585858" stroke-width="1.0" stroke-dasharray="2.6 2.15"/>
<text x="150.0" y="682.79" font-size="6.8" font-weight="bold" fill="#000" stroke="#000" stroke-width="0.25" textLength="19.15" lengthAdjust="spacingAndGlyphs">Fallacia</text>
<line x1="173.75" y1="680.69" x2="205.30" y2="680.69" stroke="#585858" stroke-width="1.0" stroke-dasharray="2.6 2.15"/>
<text x="150.0" y="692.29" font-size="6.8" font-weight="bold" fill="#000" stroke="#000" stroke-width="0.25" textLength="24.94" lengthAdjust="spacingAndGlyphs">Fistulifera</text>
<line x1="179.54" y1="690.19" x2="205.30" y2="690.19" stroke="#585858" stroke-width="1.0" stroke-dasharray="2.6 2.15"/>
<text x="150.0" y="701.77" font-size="6.8" font-weight="bold" fill="#000" stroke="#000" stroke-width="0.25" textLength="26.41" lengthAdjust="spacingAndGlyphs">Mayamaea</text>
<line x1="181.01" y1="699.67" x2="205.30" y2="699.67" stroke="#585858" stroke-width="1.0" stroke-dasharray="2.6 2.15"/>
<text x="150.0" y="711.23" font-size="6.8" font-weight="bold" fill="#000" stroke="#000" stroke-width="0.25" textLength="17.12" lengthAdjust="spacingAndGlyphs">Rossia</text>
<line x1="171.72" y1="709.13" x2="205.30" y2="709.13" stroke="#585858" stroke-width="1.0" stroke-dasharray="2.6 2.15"/>
<text x="150.0" y="720.70" font-size="6.8" font-weight="bold" fill="#000" stroke="#000" stroke-width="0.25" textLength="26.69" lengthAdjust="spacingAndGlyphs">Sellaphora</text>
<line x1="181.29" y1="718.60" x2="205.30" y2="718.60" stroke="#585858" stroke-width="1.0" stroke-dasharray="2.6 2.15"/>
<rect x="209.60" y="60.59" width="5.00" height="7.3" fill="#fb0410"/>
<rect x="297.40" y="60.59" width="4.20" height="7.3" fill="#1c30f2"/>
<rect x="318.00" y="60.59" width="4.50" height="7.3" fill="#b32cf8"/>
<rect x="431.60" y="60.59" width="4.70" height="7.3" fill="#5aff05"/>
<rect x="209.60" y="70.05" width="1.5" height="7.3" fill="#8c3440"/>
<rect x="297.40" y="70.05" width="1.6" height="7.3" fill="#485090"/>
<rect x="318.00" y="70.05" width="1.7" height="7.3" fill="#8a3cc0"/>
<rect x="431.60" y="70.05" width="1.6" height="7.3" fill="#6cb848"/>
<rect x="209.60" y="79.53" width="2.50" height="7.3" fill="#c41c28"/>
<rect x="297.40" y="79.53" width="1.6" height="7.3" fill="#485090"/>
<rect x="318.00" y="79.53" width="1.7" height="7.3" fill="#8a3cc0"/>
<rect x="431.60" y="79.53" width="1.6" height="7.3" fill="#6cb848"/>
<rect x="318.00" y="89.01" width="1.7" height="7.3" fill="#8a3cc0"/>
<rect x="431.60" y="89.01" width="1.6" height="7.3" fill="#6cb848"/>
<rect x="209.60" y="98.49" width="3.50" height="7.3" fill="#fb0410"/>
<rect x="297.40" y="98.49" width="2.40" height="7.3" fill="#3240c1"/>
<rect x="318.00" y="98.49" width="2.00" height="7.3" fill="#9e34dc"/>
<rect x="431.60" y="98.49" width="1.6" height="7.3" fill="#6cb848"/>
<rect x="209.60" y="107.98" width="3.50" height="7.3" fill="#fb0410"/>
<rect x="297.40" y="107.98" width="2.40" height="7.3" fill="#3240c1"/>
<rect x="318.00" y="107.98" width="2.00" height="7.3" fill="#9e34dc"/>
<rect x="431.60" y="107.98" width="1.6" height="7.3" fill="#6cb848"/>
<rect x="209.60" y="117.50" width="6.50" height="7.3" fill="#fb0410"/>
<rect x="297.40" y="117.50" width="4.20" height="7.3" fill="#1c30f2"/>
<rect x="318.00" y="117.50" width="6.50" height="7.3" fill="#b32cf8"/>
<rect x="431.60" y="117.50" width="4.00" height="7.3" fill="#5aff05"/>
<rect x="209.60" y="126.98" width="6.50" height="7.3" fill="#fb0410"/>
<rect x="297.40" y="126.98" width="2.40" height="7.3" fill="#3240c1"/>
<rect x="318.00" y="126.98" width="4.00" height="7.3" fill="#b32cf8"/>
<rect x="431.60" y="126.98" width="2.00" height="7.3" fill="#63dc26"/>
<rect x="209.60" y="136.58" width="1.5" height="7.3" fill="#8c3440"/>
<rect x="297.40" y="136.58" width="1.6" height="7.3" fill="#485090"/>
<rect x="209.60" y="146.13" width="5.00" height="7.3" fill="#fb0410"/>
<rect x="297.40" y="146.13" width="4.00" height="7.3" fill="#1c30f2"/>
<rect x="318.00" y="146.13" width="4.50" height="7.3" fill="#b32cf8"/>
<rect x="431.60" y="146.13" width="3.00" height="7.3" fill="#5fea19"/>
<rect x="209.60" y="155.69" width="1.5" height="7.3" fill="#8c3440"/>
<rect x="297.40" y="155.69" width="1.6" height="7.3" fill="#485090"/>
<rect x="318.00" y="155.69" width="1.7" height="7.3" fill="#8a3cc0"/>
<rect x="431.60" y="155.69" width="1.6" height="7.3" fill="#6cb848"/>
<rect x="209.60" y="165.29" width="2.00" height="7.3" fill="#c41c28"/>
<rect x="297.40" y="165.29" width="2.40" height="7.3" fill="#3240c1"/>
<rect x="318.00" y="165.29" width="11.00" height="7.3" fill="#b32cf8"/>
<rect x="431.60" y="165.29" width="5.00" height="7.3" fill="#5aff05"/>
<rect x="209.60" y="174.87" width="2.00" height="7.3" fill="#c41c28"/>
<rect x="297.40" y="174.87" width="1.6" height="7.3" fill="#485090"/>
<rect x="318.00" y="174.87" width="2.00" height="7.3" fill="#9e34dc"/>
<rect x="431.60" y="174.87" width="1.6" height="7.3" fill="#6cb848"/>
<rect x="209.60" y="184.43" width="1.5" height="7.3" fill="#8c3440"/>
<rect x="297.40" y="184.43" width="1.6" height="7.3" fill="#485090"/>
<rect x="318.00" y="184.43" width="1.7" height="7.3" fill="#8a3cc0"/>
<rect x="431.60" y="184.43" width="1.6" height="7.3" fill="#6cb848"/>
<rect x="209.60" y="194.00" width="4.50" height="7.3" fill="#fb0410"/>
<rect x="297.40" y="194.00" width="4.00" height="7.3" fill="#1c30f2"/>
<rect x="318.00" y="194.00" width="31.00" height="7.3" fill="#b32cf8"/>
<rect x="431.60" y="194.00" width="10.50" height="7.3" fill="#5aff05"/>
<rect x="209.60" y="203.50" width="7.00" height="7.3" fill="#fb0410"/>
<rect x="297.40" y="203.50" width="2.40" height="7.3" fill="#3240c1"/>
<rect x="318.00" y="203.50" width="4.00" height="7.3" fill="#b32cf8"/>
<rect x="431.60" y="203.50" width="1.6" height="7.3" fill="#6cb848"/>
<rect x="209.60" y="213.06" width="2.50" height="7.3" fill="#c41c28"/>
<rect x="297.40" y="213.06" width="2.00" height="7.3" fill="#3240c1"/>
<rect x="318.00" y="213.06" width="2.50" height="7.3" fill="#9e34dc"/>
<rect x="431.60" y="213.06" width="2.00" height="7.3" fill="#63dc26"/>
<rect x="209.60" y="222.58" width="1.5" height="7.3" fill="#8c3440"/>
<rect x="297.40" y="222.58" width="1.6" height="7.3" fill="#485090"/>
<rect x="318.00" y="222.58" width="1.7" height="7.3" fill="#8a3cc0"/>
<rect x="431.60" y="222.58" width="1.6" height="7.3" fill="#6cb848"/>
<rect x="209.60" y="232.03" width="10.00" height="7.3" fill="#fb0410"/>
<rect x="297.40" y="232.03" width="4.00" height="7.3" fill="#1c30f2"/>
<rect x="318.00" y="232.03" width="9.00" height="7.3" fill="#b32cf8"/>
<rect x="431.60" y="232.03" width="1.6" height="7.3" fill="#6cb848"/>
<rect x="209.60" y="241.53" width="1.5" height="7.3" fill="#8c3440"/>
<rect x="297.40" y="241.53" width="1.6" height="7.3" fill="#485090"/>
<rect x="318.00" y="241.53" width="1.7" height="7.3" fill="#8a3cc0"/>
<rect x="431.60" y="241.53" width="1.6" height="7.3" fill="#6cb848"/>
<rect x="209.60" y="251.02" width="2.00" height="7.3" fill="#c41c28"/>
<rect x="297.40" y="251.02" width="2.00" height="7.3" fill="#3240c1"/>
<rect x="318.00" y="251.02" width="1.7" height="7.3" fill="#8a3cc0"/>
<rect x="431.60" y="251.02" width="1.6" height="7.3" fill="#6cb848"/>
<rect x="209.60" y="260.50" width="2.00" height="7.3" fill="#c41c28"/>
<rect x="297.40" y="260.50" width="2.00" height="7.3" fill="#3240c1"/>
<rect x="318.00" y="260.50" width="2.50" height="7.3" fill="#9e34dc"/>
<rect x="431.60" y="260.50" width="2.00" height="7.3" fill="#63dc26"/>
<rect x="209.60" y="269.94" width="1.5" height="7.3" fill="#8c3440"/>
<rect x="297.40" y="269.94" width="1.6" height="7.3" fill="#485090"/>
<rect x="209.60" y="279.40" width="5.80" height="7.3" fill="#fb0410"/>
<rect x="297.40" y="279.40" width="4.00" height="7.3" fill="#1c30f2"/>
<rect x="318.00" y="279.40" width="3.80" height="7.3" fill="#b32cf8"/>
<rect x="431.60" y="279.40" width="3.50" height="7.3" fill="#5aff05"/>
<rect x="209.60" y="288.89" width="2.00" height="7.3" fill="#c41c28"/>
<rect x="297.40" y="288.89" width="1.6" height="7.3" fill="#485090"/>
<rect x="318.00" y="288.89" width="1.7" height="7.3" fill="#8a3cc0"/>
<rect x="431.60" y="288.89" width="1.6" height="7.3" fill="#6cb848"/>
<rect x="209.60" y="298.37" width="5.00" height="7.3" fill="#fb0410"/>
<rect x="297.40" y="298.37" width="3.00" height="7.3" fill="#293ad5"/>
<rect x="318.00" y="298.37" width="4.00" height="7.3" fill="#b32cf8"/>
<rect x="431.60" y="298.37" width="1.6" height="7.3" fill="#6cb848"/>
<rect x="209.60" y="307.86" width="3.50" height="7.3" fill="#fb0410"/>
<rect x="297.40" y="307.86" width="2.50" height="7.3" fill="#3240c1"/>
<rect x="318.00" y="307.86" width="4.00" height="7.3" fill="#b32cf8"/>
<rect x="431.60" y="307.86" width="3.00" height="7.3" fill="#5fea19"/>
<rect x="209.60" y="317.38" width="1.5" height="7.3" fill="#8c3440"/>
<rect x="297.40" y="317.38" width="1.6" height="7.3" fill="#485090"/>
<rect x="209.60" y="326.87" width="1.5" height="7.3" fill="#8c3440"/>
<rect x="297.40" y="326.87" width="1.6" height="7.3" fill="#485090"/>
<rect x="318.00" y="326.87" width="1.7" height="7.3" fill="#8a3cc0"/>
<rect x="431.60" y="326.87" width="1.6" height="7.3" fill="#6cb848"/>
<rect x="209.60" y="336.39" width="44.40" height="7.3" fill="#fb0410"/>
<rect x="297.40" y="336.39" width="10.00" height="7.3" fill="#1c30f2"/>
<rect x="318.00" y="336.39" width="49.50" height="7.3" fill="#b32cf8"/>
<rect x="431.60" y="336.39" width="11.00" height="7.3" fill="#5aff05"/>
<rect x="209.60" y="345.87" width="1.5" height="7.3" fill="#8c3440"/>
<rect x="297.40" y="345.87" width="1.6" height="7.3" fill="#485090"/>
<rect x="318.00" y="345.87" width="2.00" height="7.3" fill="#9e34dc"/>
<rect x="431.60" y="345.87" width="1.6" height="7.3" fill="#6cb848"/>
<rect x="209.60" y="355.32" width="3.50" height="7.3" fill="#fb0410"/>
<rect x="297.40" y="355.32" width="1.6" height="7.3" fill="#485090"/>
<rect x="318.00" y="355.32" width="1.7" height="7.3" fill="#8a3cc0"/>
<rect x="431.60" y="355.32" width="1.6" height="7.3" fill="#6cb848"/>
<rect x="209.60" y="364.80" width="22.40" height="7.3" fill="#fb0410"/>
<rect x="297.40" y="364.80" width="2.00" height="7.3" fill="#3240c1"/>
<rect x="318.00" y="364.80" width="19.00" height="7.3" fill="#b32cf8"/>
<rect x="431.60" y="364.80" width="4.00" height="7.3" fill="#5aff05"/>
<rect x="209.60" y="374.20" width="1.5" height="7.3" fill="#8c3440"/>
<rect x="297.40" y="374.20" width="1.6" height="7.3" fill="#485090"/>
<rect x="318.00" y="374.20" width="1.7" height="7.3" fill="#8a3cc0"/>
<rect x="431.60" y="374.20" width="1.6" height="7.3" fill="#6cb848"/>
<rect x="209.60" y="383.56" width="2.00" height="7.3" fill="#c41c28"/>
<rect x="297.40" y="383.56" width="2.00" height="7.3" fill="#3240c1"/>
<rect x="318.00" y="383.56" width="11.50" height="7.3" fill="#b32cf8"/>
<rect x="431.60" y="383.56" width="1.6" height="7.3" fill="#6cb848"/>
<rect x="209.60" y="392.94" width="3.00" height="7.3" fill="#da121e"/>
<rect x="297.40" y="392.94" width="3.00" height="7.3" fill="#293ad5"/>
<rect x="318.00" y="392.94" width="1.7" height="7.3" fill="#8a3cc0"/>
<rect x="431.60" y="392.94" width="1.6" height="7.3" fill="#6cb848"/>
<rect x="209.60" y="402.32" width="87.70" height="7.3" fill="#fb0410"/>
<rect x="297.40" y="402.32" width="19.00" height="7.3" fill="#1c30f2"/>
<rect x="318.00" y="402.32" width="113.00" height="7.3" fill="#b32cf8"/>
<rect x="431.60" y="402.32" width="17.60" height="7.3" fill="#5aff05"/>
<rect x="209.60" y="411.67" width="2.00" height="7.3" fill="#c41c28"/>
<rect x="297.40" y="411.67" width="1.6" height="7.3" fill="#485090"/>
<rect x="318.00" y="411.67" width="2.00" height="7.3" fill="#9e34dc"/>
<rect x="431.60" y="411.67" width="2.00" height="7.3" fill="#63dc26"/>
<rect x="209.60" y="421.08" width="36.50" height="7.3" fill="#fb0410"/>
<rect x="297.40" y="421.08" width="11.00" height="7.3" fill="#1c30f2"/>
<rect x="318.00" y="421.08" width="46.00" height="7.3" fill="#b32cf8"/>
<rect x="431.60" y="421.08" width="10.50" height="7.3" fill="#5aff05"/>
<rect x="209.60" y="430.45" width="1.5" height="7.3" fill="#8c3440"/>
<rect x="297.40" y="430.45" width="1.6" height="7.3" fill="#485090"/>
<rect x="318.00" y="430.45" width="2.50" height="7.3" fill="#9e34dc"/>
<rect x="431.60" y="430.45" width="2.00" height="7.3" fill="#63dc26"/>
<rect x="209.60" y="439.91" width="1.5" height="7.3" fill="#8c3440"/>
<rect x="297.40" y="439.91" width="1.6" height="7.3" fill="#485090"/>
<rect x="318.00" y="439.91" width="1.7" height="7.3" fill="#8a3cc0"/>
<rect x="431.60" y="439.91" width="1.6" height="7.3" fill="#6cb848"/>
<rect x="209.60" y="449.42" width="2.50" height="7.3" fill="#c41c28"/>
<rect x="297.40" y="449.42" width="2.50" height="7.3" fill="#3240c1"/>
<rect x="318.00" y="449.42" width="2.50" height="7.3" fill="#9e34dc"/>
<rect x="431.60" y="449.42" width="1.6" height="7.3" fill="#6cb848"/>
<rect x="209.60" y="458.91" width="23.60" height="7.3" fill="#fb0410"/>
<rect x="297.40" y="458.91" width="1.6" height="7.3" fill="#485090"/>
<rect x="318.00" y="458.91" width="1.7" height="7.3" fill="#8a3cc0"/>
<rect x="431.60" y="458.91" width="1.6" height="7.3" fill="#6cb848"/>
<rect x="209.60" y="468.41" width="1.5" height="7.3" fill="#8c3440"/>
<rect x="297.40" y="468.41" width="1.6" height="7.3" fill="#485090"/>
<rect x="318.00" y="468.41" width="1.7" height="7.3" fill="#8a3cc0"/>
<rect x="431.60" y="468.41" width="1.6" height="7.3" fill="#6cb848"/>
<rect x="209.60" y="477.96" width="7.00" height="7.3" fill="#fb0410"/>
<rect x="297.40" y="477.96" width="6.50" height="7.3" fill="#1c30f2"/>
<rect x="318.00" y="477.96" width="11.50" height="7.3" fill="#b32cf8"/>
<rect x="431.60" y="477.96" width="6.50" height="7.3" fill="#5aff05"/>
<rect x="209.60" y="487.45" width="1.5" height="7.3" fill="#8c3440"/>
<rect x="297.40" y="487.45" width="1.6" height="7.3" fill="#485090"/>
<rect x="318.00" y="487.45" width="1.7" height="7.3" fill="#8a3cc0"/>
<rect x="431.60" y="487.45" width="1.6" height="7.3" fill="#6cb848"/>
<rect x="209.60" y="496.96" width="1.5" height="7.3" fill="#8c3440"/>
<rect x="297.40" y="496.96" width="1.6" height="7.3" fill="#485090"/>
<rect x="318.00" y="496.96" width="1.7" height="7.3" fill="#8a3cc0"/>
<rect x="431.60" y="496.96" width="1.6" height="7.3" fill="#6cb848"/>
<rect x="209.60" y="506.45" width="1.5" height="7.3" fill="#8c3440"/>
<rect x="297.40" y="506.45" width="1.6" height="7.3" fill="#485090"/>
<rect x="209.60" y="515.94" width="2.00" height="7.3" fill="#c41c28"/>
<rect x="297.40" y="515.94" width="1.6" height="7.3" fill="#485090"/>
<rect x="318.00" y="515.94" width="1.7" height="7.3" fill="#8a3cc0"/>
<rect x="431.60" y="515.94" width="1.6" height="7.3" fill="#6cb848"/>
<rect x="209.60" y="525.45" width="3.50" height="7.3" fill="#fb0410"/>
<rect x="297.40" y="525.45" width="3.00" height="7.3" fill="#293ad5"/>
<rect x="318.00" y="525.45" width="3.00" height="7.3" fill="#a731e7"/>
<rect x="431.60" y="525.45" width="3.00" height="7.3" fill="#5fea19"/>
<rect x="209.60" y="534.89" width="38.60" height="7.3" fill="#fb0410"/>
<rect x="297.40" y="534.89" width="21.00" height="7.3" fill="#1c30f2"/>
<rect x="318.00" y="534.89" width="29.50" height="7.3" fill="#b32cf8"/>
<rect x="431.60" y="534.89" width="17.90" height="7.3" fill="#5aff05"/>
<rect x="209.60" y="544.38" width="1.5" height="7.3" fill="#8c3440"/>
<rect x="297.40" y="544.38" width="2.00" height="7.3" fill="#3240c1"/>
<rect x="318.00" y="544.38" width="1.7" height="7.3" fill="#8a3cc0"/>
<rect x="431.60" y="544.38" width="1.6" height="7.3" fill="#6cb848"/>
<rect x="209.60" y="553.90" width="2.00" height="7.3" fill="#c41c28"/>
<rect x="297.40" y="553.90" width="2.50" height="7.3" fill="#3240c1"/>
<rect x="318.00" y="553.90" width="1.7" height="7.3" fill="#8a3cc0"/>
<rect x="431.60" y="553.90" width="1.6" height="7.3" fill="#6cb848"/>
<rect x="209.60" y="563.36" width="6.00" height="7.3" fill="#fb0410"/>
<rect x="297.40" y="563.36" width="3.00" height="7.3" fill="#293ad5"/>
<rect x="318.00" y="563.36" width="5.50" height="7.3" fill="#b32cf8"/>
<rect x="431.60" y="563.36" width="3.30" height="7.3" fill="#5aff05"/>
<rect x="209.60" y="572.88" width="1.5" height="7.3" fill="#8c3440"/>
<rect x="297.40" y="572.88" width="1.6" height="7.3" fill="#485090"/>
<rect x="318.00" y="572.88" width="1.7" height="7.3" fill="#8a3cc0"/>
<rect x="431.60" y="572.88" width="1.6" height="7.3" fill="#6cb848"/>
<rect x="209.60" y="582.33" width="5.00" height="7.3" fill="#fb0410"/>
<rect x="297.40" y="582.33" width="3.00" height="7.3" fill="#293ad5"/>
<rect x="318.00" y="582.33" width="6.60" height="7.3" fill="#b32cf8"/>
<rect x="431.60" y="582.33" width="4.20" height="7.3" fill="#5aff05"/>
<rect x="209.60" y="591.75" width="1.5" height="7.3" fill="#8c3440"/>
<rect x="297.40" y="591.75" width="1.6" height="7.3" fill="#485090"/>
<rect x="209.60" y="601.31" width="2.60" height="7.3" fill="#c41c28"/>
<rect x="297.40" y="601.31" width="3.00" height="7.3" fill="#293ad5"/>
<rect x="318.00" y="601.31" width="6.20" height="7.3" fill="#b32cf8"/>
<rect x="431.60" y="601.31" width="3.30" height="7.3" fill="#5aff05"/>
<rect x="209.60" y="610.76" width="1.5" height="7.3" fill="#8c3440"/>
<rect x="297.40" y="610.76" width="1.6" height="7.3" fill="#485090"/>
<rect x="318.00" y="610.76" width="1.7" height="7.3" fill="#8a3cc0"/>
<rect x="431.60" y="610.76" width="1.6" height="7.3" fill="#6cb848"/>
<rect x="318.00" y="620.19" width="1.7" height="7.3" fill="#8a3cc0"/>
<rect x="431.60" y="620.19" width="1.6" height="7.3" fill="#6cb848"/>
<rect x="209.60" y="629.69" width="44.60" height="7.3" fill="#fb0410"/>
<rect x="297.40" y="629.69" width="13.00" height="7.3" fill="#1c30f2"/>
<rect x="318.00" y="629.69" width="44.50" height="7.3" fill="#b32cf8"/>
<rect x="431.60" y="629.69" width="14.00" height="7.3" fill="#5aff05"/>
<rect x="209.60" y="639.15" width="1.5" height="7.3" fill="#8c3440"/>
<rect x="297.40" y="639.15" width="1.6" height="7.3" fill="#485090"/>
<rect x="318.00" y="639.15" width="1.7" height="7.3" fill="#8a3cc0"/>
<rect x="431.60" y="639.15" width="1.6" height="7.3" fill="#6cb848"/>
<rect x="209.60" y="648.65" width="1.5" height="7.3" fill="#8c3440"/>
<rect x="297.40" y="648.65" width="1.6" height="7.3" fill="#485090"/>
<rect x="318.00" y="648.65" width="1.7" height="7.3" fill="#8a3cc0"/>
<rect x="431.60" y="648.65" width="1.6" height="7.3" fill="#6cb848"/>
<rect x="209.60" y="658.17" width="1.5" height="7.3" fill="#8c3440"/>
<rect x="297.40" y="658.17" width="1.6" height="7.3" fill="#485090"/>
<rect x="318.00" y="658.17" width="1.7" height="7.3" fill="#8a3cc0"/>
<rect x="431.60" y="658.17" width="1.6" height="7.3" fill="#6cb848"/>
<rect x="209.60" y="667.60" width="2.00" height="7.3" fill="#c41c28"/>
<rect x="297.40" y="667.60" width="1.6" height="7.3" fill="#485090"/>
<rect x="318.00" y="667.60" width="2.00" height="7.3" fill="#9e34dc"/>
<rect x="431.60" y="667.60" width="1.6" height="7.3" fill="#6cb848"/>
<rect x="209.60" y="677.09" width="2.00" height="7.3" fill="#c41c28"/>
<rect x="297.40" y="677.09" width="2.00" height="7.3" fill="#3240c1"/>
<rect x="318.00" y="677.09" width="2.50" height="7.3" fill="#9e34dc"/>
<rect x="431.60" y="677.09" width="2.50" height="7.3" fill="#63dc26"/>
<rect x="209.60" y="686.59" width="12.00" height="7.3" fill="#fb0410"/>
<rect x="297.40" y="686.59" width="2.00" height="7.3" fill="#3240c1"/>
<rect x="318.00" y="686.59" width="12.80" height="7.3" fill="#b32cf8"/>
<rect x="431.60" y="686.59" width="1.6" height="7.3" fill="#6cb848"/>
<rect x="209.60" y="696.07" width="8.00" height="7.3" fill="#fb0410"/>
<rect x="297.40" y="696.07" width="2.00" height="7.3" fill="#3240c1"/>
<rect x="318.00" y="696.07" width="7.00" height="7.3" fill="#b32cf8"/>
<rect x="431.60" y="696.07" width="3.00" height="7.3" fill="#5fea19"/>
<rect x="209.60" y="705.53" width="1.5" height="7.3" fill="#8c3440"/>
<rect x="297.40" y="705.53" width="1.6" height="7.3" fill="#485090"/>
<rect x="318.00" y="705.53" width="1.7" height="7.3" fill="#8a3cc0"/>
<rect x="431.60" y="705.53" width="1.6" height="7.3" fill="#6cb848"/>
<rect x="209.60" y="715.00" width="24.50" height="7.3" fill="#fb0410"/>
<rect x="297.40" y="715.00" width="6.50" height="7.3" fill="#1c30f2"/>
<rect x="318.00" y="715.00" width="70.00" height="7.3" fill="#b32cf8"/>
<rect x="431.60" y="715.00" width="6.50" height="7.3" fill="#5aff05"/>
<rect x="452.2" y="59.70" width="4.8" height="10.50" fill="#e946d6"/>
<rect x="452.2" y="70.20" width="4.8" height="9.90" fill="#b432eb"/>
<rect x="452.2" y="80.10" width="4.8" height="36.90" fill="#d01cec"/>
<rect x="452.2" y="117.00" width="4.8" height="27.40" fill="#c39119"/>
<rect x="452.2" y="144.40" width="4.8" height="58.20" fill="#b0060f"/>
<rect x="452.2" y="202.60" width="4.8" height="68.00" fill="#ecfa1e"/>
<rect x="452.2" y="270.60" width="4.8" height="84.90" fill="#fbb08a"/>
<rect x="452.2" y="355.50" width="4.8" height="81.70" fill="#fcc62a"/>
<rect x="452.2" y="437.20" width="4.8" height="287.40" fill="#a523f3"/>
<text x="459.7" y="66.75" font-size="7.5" font-weight="bold" fill="#262626" textLength="33.75" lengthAdjust="spacingAndGlyphs">Eunotiales</text>
<text x="459.7" y="76.40" font-size="7.5" font-weight="bold" fill="#262626" textLength="45.25" lengthAdjust="spacingAndGlyphs">Mastogloiales</text>
<text x="459.7" y="85.75" font-size="7.5" font-weight="bold" fill="#262626" textLength="30" lengthAdjust="spacingAndGlyphs">Lyrellales</text>
<text x="459.7" y="109.50" font-size="7.5" font-weight="bold" fill="#262626" textLength="45.9" lengthAdjust="spacingAndGlyphs">Rhopalodiales</text>
<text x="459.7" y="134.80" font-size="7.5" font-weight="bold" fill="#262626" textLength="58.2" lengthAdjust="spacingAndGlyphs">Thalassiophysales</text>
<text x="459.7" y="164.10" font-size="7.5" font-weight="bold" fill="#262626" textLength="36" lengthAdjust="spacingAndGlyphs">Surirellales</text>
<text x="459.7" y="221.60" font-size="7.5" font-weight="bold" fill="#262626" textLength="44.2" lengthAdjust="spacingAndGlyphs">Achnanthales</text>
<text x="459.7" y="299.80" font-size="7.5" font-weight="bold" fill="#262626" textLength="39.3" lengthAdjust="spacingAndGlyphs">Cymbellales</text>
<text x="459.7" y="387.40" font-size="7.5" font-weight="bold" fill="#262626" textLength="38.2" lengthAdjust="spacingAndGlyphs">Bacillariales</text>
<text x="459.7" y="562.00" font-size="7.5" font-weight="bold" fill="#262626" textLength="36.5" lengthAdjust="spacingAndGlyphs">Naviculales</text>
<text x="266.3" y="12.6" font-size="14" fill="#1a1a1a" stroke="#1a1a1a" stroke-width="0.35" textLength="21.7" lengthAdjust="spacingAndGlyphs">18s</text>
<text x="390.0" y="12.6" font-size="14.2" fill="#1a1a1a" stroke="#1a1a1a" stroke-width="0.35" textLength="27.0" lengthAdjust="spacingAndGlyphs">rbcL</text>
<text x="234.7" y="31.5" font-size="9.4" fill="#1a1a1a" stroke="#1a1a1a" stroke-width="0.25" textLength="38.3" lengthAdjust="spacingAndGlyphs">barcodes</text>
<text x="300.2" y="31.5" font-size="9.2" fill="#1a1a1a" stroke="#1a1a1a" stroke-width="0.25" textLength="17.0" lengthAdjust="spacingAndGlyphs">taxa</text>
<text x="357.9" y="31.5" font-size="9.4" fill="#1a1a1a" stroke="#1a1a1a" stroke-width="0.25" textLength="38.1" lengthAdjust="spacingAndGlyphs">barcodes</text>
<text x="430.5" y="31.5" font-size="9.2" fill="#1a1a1a" stroke="#1a1a1a" stroke-width="0.25" textLength="17.0" lengthAdjust="spacingAndGlyphs">taxa</text>
<text x="209.2" y="57.2" font-size="10.8" fill="#1a1a1a" stroke="#1a1a1a" stroke-width="0.5" textLength="4.6" lengthAdjust="spacingAndGlyphs">1</text>
<text x="297.3" y="57.2" font-size="10.8" fill="#1a1a1a" stroke="#1a1a1a" stroke-width="0.5" textLength="21.8" lengthAdjust="spacingAndGlyphs">1-39</text>
<text x="323.1" y="57.2" font-size="10.8" fill="#1a1a1a" stroke="#1a1a1a" stroke-width="0.5" textLength="4.4" lengthAdjust="spacingAndGlyphs">1</text>
<text x="274.6" y="57.2" font-size="10.8" fill="#1a1a1a" stroke="#1a1a1a" stroke-width="0.5" textLength="17.6" lengthAdjust="spacingAndGlyphs">182</text>
<text x="408.0" y="57.2" font-size="10.8" fill="#1a1a1a" stroke="#1a1a1a" stroke-width="0.5" textLength="19.0" lengthAdjust="spacingAndGlyphs">226</text>
<text x="431.0" y="57.2" font-size="10.8" fill="#1a1a1a" stroke="#1a1a1a" stroke-width="0.5" textLength="22.2" lengthAdjust="spacingAndGlyphs">1-36</text>
<rect x="244.2" y="53.2" width="2.9" height="1.2" fill="#1e1e1e"/>
<rect x="379.2" y="53.2" width="2.6" height="1.2" fill="#1e1e1e"/>
<path d="M232.4,25.0 L232.4,17.9 Q232.4,16.7 233.6,16.7 L316.5,16.7 Q317.7,16.7 317.7,17.9 L317.7,25.0" fill="none" stroke="#1e1e1e" stroke-width="1.4"/>
<path d="M356.6,25.0 L356.6,17.9 Q356.6,16.7 357.8,16.7 L446.8,16.7 Q448.0,16.7 448.0,17.9 L448.0,25.0" fill="none" stroke="#1e1e1e" stroke-width="1.4"/>
<path d="M209.2,46.0 L209.2,39.400000000000006 Q209.2,38.2 210.39999999999998,38.2 L293.40000000000003,38.2 Q294.6,38.2 294.6,39.400000000000006 L294.6,46.0" fill="none" stroke="#1e1e1e" stroke-width="1.4"/>
<path d="M298.4,46.0 L298.4,39.2 Q298.4,38.0 299.59999999999997,38.0 L320.2,38.0 Q321.4,38.0 321.4,39.2 L321.4,46.0" fill="none" stroke="#1e1e1e" stroke-width="1.4"/>
<path d="M323.5,45.5 L323.5,39.2 Q323.5,38.0 324.7,38.0 L427.5,38.0 Q428.7,38.0 428.7,39.2 L428.7,45.5" fill="none" stroke="#1e1e1e" stroke-width="1.4"/>
<path d="M430.8,45.5 L430.8,39.2 Q430.8,38.0 432.0,38.0 L452.5,38.0 Q453.7,38.0 453.7,39.2 L453.7,45.5" fill="none" stroke="#1e1e1e" stroke-width="1.4"/>
</svg></body></html>
